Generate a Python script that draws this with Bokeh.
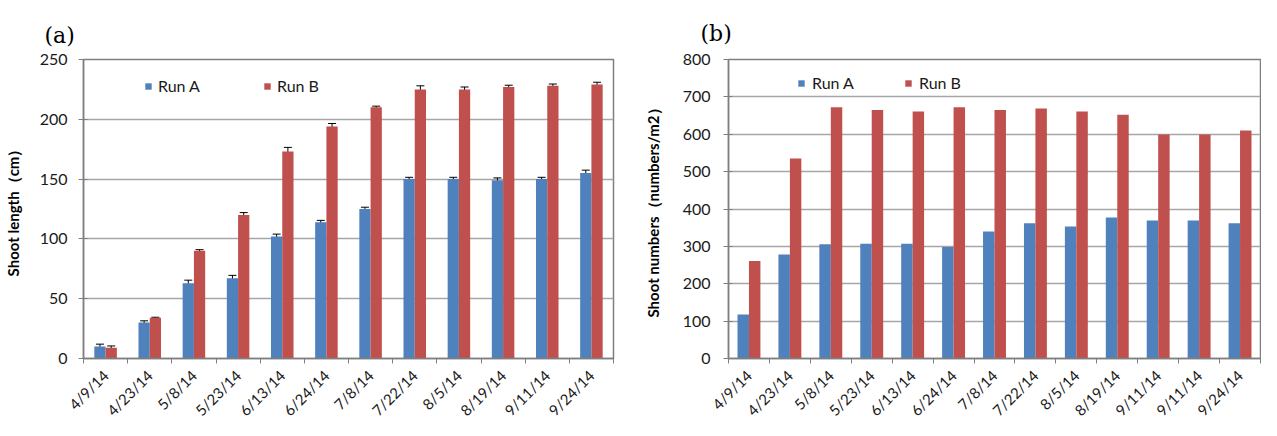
from bokeh.plotting import figure
from bokeh.models import (ColumnDataSource, FixedTicker, SingleIntervalTicker, Whisker, TeeHead,
                          Legend, LegendItem, Range1d)
from bokeh.layouts import row
from bokeh.embed import file_html
from bokeh.resources import INLINE
from math import pi

# ---------------- data ----------------
dates_a = ["4/9/14", "4/23/14", "5/8/14", "5/23/14", "6/13/14", "6/24/14",
           "7/8/14", "7/22/14", "8/5/14", "8/19/14", "9/11/14", "9/24/14"]
length_run_a = [10, 30, 63, 67, 102, 114, 125, 150, 150, 149, 150, 155]
length_run_a_err = [2, 1.5, 2.5, 2.5, 2, 1.5, 1.5, 1.5, 1.5, 2, 1.5, 2.5]
length_run_b = [9, 34, 90, 120, 173, 194, 210, 225, 225, 227, 228, 229]
length_run_b_err = [1.5, 0.5, 1, 2, 3.5, 2.5, 1, 3, 2, 1.5, 1.5, 2]

dates_b = ["4/9/14", "4/23/14", "5/8/14", "5/23/14", "6/13/14", "6/24/14",
           "7/8/14", "7/22/14", "8/5/14", "8/19/14", "9/11/14", "9/11/14", "9/24/14"]
numbers_run_a = [118, 278, 306, 307, 307, 298, 340, 362, 353, 377, 369, 369, 362]
numbers_run_b = [261, 535, 672, 665, 661, 672, 665, 669, 661, 652, 599, 599, 610]

BLUE = "#4F81BD"
RED = "#C0504D"
FONT = "Lato"
GRID = "#a6a6a6"
H = 428


def base_style(p, labels, ymax, yint):
    n = len(labels)
    p.x_range = Range1d(-0.5, n - 0.5)
    p.y_range = Range1d(0, ymax)
    p.outline_line_color = "#7f7f7f"
    p.outline_line_width = 1.5
    p.xgrid.visible = False
    p.ygrid.grid_line_color = GRID
    p.ygrid.grid_line_width = 1.5
    p.ygrid.ticker = SingleIntervalTicker(interval=yint)

    xa = p.xaxis[0]
    xa.ticker = FixedTicker(ticks=list(range(n)),
                            minor_ticks=[i - 0.5 for i in range(n + 1)])
    xa.major_label_overrides = {i: lab for i, lab in enumerate(labels)}
    xa.major_label_orientation = pi / 4
    xa.major_tick_line_color = None
    xa.major_tick_out = 0
    xa.major_tick_in = 0
    xa.minor_tick_in = 0
    xa.minor_tick_out = 5
    xa.minor_tick_line_color = "#7f7f7f"
    xa.axis_line_color = "#7f7f7f"
    xa.axis_line_width = 1.5
    xa.major_label_text_font = FONT
    xa.major_label_text_font_size = "15px"
    xa.major_label_text_color = "#1a1a1a"
    xa.major_label_standoff = 9

    ya = p.yaxis[0]
    ya.ticker = SingleIntervalTicker(interval=yint)
    ya.minor_tick_line_color = None
    ya.major_tick_in = 4
    ya.major_tick_out = 5
    ya.major_tick_line_color = "#7f7f7f"
    ya.axis_line_color = "#7f7f7f"
    ya.axis_line_width = 1.5
    ya.major_label_text_font = FONT
    ya.major_label_text_font_size = "16px"
    ya.major_label_text_color = "#1a1a1a"
    ya.axis_label_text_font = FONT
    ya.axis_label_text_font_style = "bold"
    ya.axis_label_text_font_size = "15px"
    ya.axis_label_text_color = "#000000"

    p.title.text_font = "DejaVu Serif"
    p.title.text_font_style = "normal"
    p.title.text_font_size = "22px"
    p.title.text_color = "#000000"
    p.title.align = "left"


# ---------------- panel (a) ----------------
xa_idx = list(range(len(dates_a)))
w_a = 0.255
src_a = ColumnDataSource(dict(
    xa=[i - w_a / 2 for i in xa_idx],
    xb=[i + w_a / 2 for i in xa_idx],
    ya=length_run_a, yb=length_run_b,
    ya_lo=[v - e for v, e in zip(length_run_a, length_run_a_err)],
    ya_hi=[v + e for v, e in zip(length_run_a, length_run_a_err)],
    yb_lo=[v - e for v, e in zip(length_run_b, length_run_b_err)],
    yb_hi=[v + e for v, e in zip(length_run_b, length_run_b_err)],
))

p1 = figure(width=640, height=H, output_backend="svg", toolbar_location=None,
            title="(a)", min_border_left=76, min_border_right=27,
            min_border_top=56, min_border_bottom=68)
base_style(p1, dates_a, 250, 50)
p1.yaxis.axis_label = "Shoot length（cm）"
p1.yaxis.major_label_standoff = 11
p1.yaxis.axis_label_standoff = 15
p1.title.offset = -39
p1.title.standoff = 24

r1a = p1.vbar(x="xa", top="ya", width=w_a, source=src_a, fill_color=BLUE, line_color=None)
r1b = p1.vbar(x="xb", top="yb", width=w_a, source=src_a, fill_color=RED, line_color=None)
for lo, hi, xx in (("ya_lo", "ya_hi", "xa"), ("yb_lo", "yb_hi", "xb")):
    p1.add_layout(Whisker(source=src_a, base=xx, lower=lo, upper=hi,
                          line_color="black", line_width=1,
                          upper_head=TeeHead(size=8, line_color="black", line_width=1),
                          lower_head=TeeHead(size=8, line_color="black", line_width=1)))

leg1 = Legend(items=[LegendItem(label="Run A", renderers=[r1a]),
                     LegendItem(label="Run B", renderers=[r1b])],
              orientation="horizontal", location=(61, 263),
              border_line_color=None, background_fill_alpha=0,
              glyph_width=8, glyph_height=8, label_standoff=6, spacing=63,
              padding=0, margin=0, label_text_font=FONT, label_text_font_size="16px",
              label_text_color="#1a1a1a")
p1.add_layout(leg1)

# ---------------- panel (b) ----------------
xb_idx = list(range(len(dates_b)))
w_b = 0.28
src_b = ColumnDataSource(dict(
    xa=[i - w_b / 2 for i in xb_idx],
    xb=[i + w_b / 2 for i in xb_idx],
    ya=numbers_run_a, yb=numbers_run_b,
))

p2 = figure(width=621, height=H, output_backend="svg", toolbar_location=None,
            title="(b)", min_border_left=73, min_border_right=1,
            min_border_top=59, min_border_bottom=70)
base_style(p2, dates_b, 800, 100)
p2.yaxis.axis_label = "Shoot numbers（numbers/m2）"
p2.yaxis.major_label_standoff = 13
p2.yaxis.axis_label_standoff = 18
p2.title.offset = -28
p2.title.standoff = 27

r2a = p2.vbar(x="xa", top="ya", width=w_b, source=src_b, fill_color=BLUE, line_color=None)
r2b = p2.vbar(x="xb", top="yb", width=w_b, source=src_b, fill_color=RED, line_color=None)

leg2 = Legend(items=[LegendItem(label="Run A", renderers=[r2a]),
                     LegendItem(label="Run B", renderers=[r2b])],
              orientation="horizontal", location=(69, 266),
              border_line_color=None, background_fill_alpha=0,
              glyph_width=8, glyph_height=8, label_standoff=7, spacing=50,
              padding=0, margin=0, label_text_font=FONT, label_text_font_size="16px",
              label_text_color="#1a1a1a")
p2.add_layout(leg2)

layout = row(p1, p2)
open("out.html", "w").write(file_html(layout, INLINE))
